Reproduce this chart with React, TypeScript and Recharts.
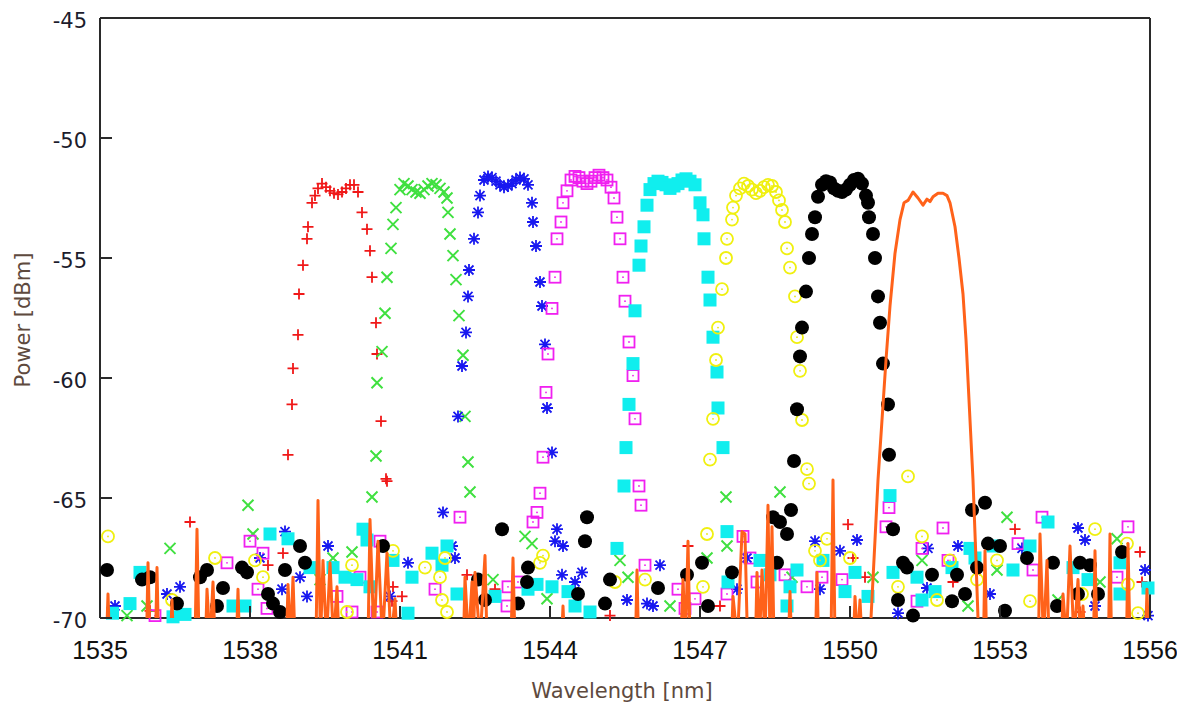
import React from 'react';
import { ComposedChart, Scatter, Line, XAxis, YAxis, Label } from 'recharts';

type Pt = [number, number];

// Axis ticks
const wavelengthTicks = [1535, 1538, 1541, 1544, 1547, 1550, 1553, 1556];
const powerTicks = [-70, -65, -60, -55, -50, -45];

// Channel 1 (red +): [wavelength nm, power dBm]
const ch1: Pt[] = [
  [1538.76, -63.2], [1538.84, -61.1], [1538.86, -59.6], [1538.96, -58.2], [1538.98, -56.5],
  [1539.06, -55.3], [1539.14, -54.2], [1539.16, -53.7], [1539.24, -52.7],
  [1539.3, -52.4], [1539.36, -52.1], [1539.44, -51.9], [1539.52, -52.05], [1539.6, -52.2],
  [1539.68, -52.3], [1539.76, -52.35], [1539.84, -52.25], [1539.92, -52.1], [1540.0, -51.95],
  [1540.08, -51.95], [1540.16, -52.25],
  [1540.24, -53.1], [1540.34, -53.8], [1540.4, -54.7], [1540.44, -55.8], [1540.52, -57.7],
  [1540.54, -59.0], [1540.62, -61.8], [1540.72, -64.2], [1540.74, -64.3],
  [1536.0, -69.7], [1536.8, -66.0], [1538.36, -67.8], [1538.66, -67.3], [1540.84, -69.3],
  [1540.86, -68.7], [1541.04, -69.1], [1542.34, -68.2], [1542.9, -68.8], [1545.2, -69.9],
  [1546.76, -67.0], [1547.4, -69.5], [1549.96, -66.1], [1550.06, -67.5], [1550.3, -68.3],
  [1552.06, -68.5], [1552.6, -68.0], [1553.3, -66.3], [1554.6, -69.75], [1555.8, -67.25],
  [1555.84, -68.5],
];

// Channel 2 (green x)
const ch2: Pt[] = [
  [1540.44, -64.96], [1540.52, -63.25], [1540.54, -60.2], [1540.64, -58.9], [1540.7, -57.3],
  [1540.74, -55.8], [1540.82, -54.6], [1540.86, -53.6], [1540.92, -52.9],
  [1541.0, -52.15], [1541.08, -51.9], [1541.16, -52.0], [1541.24, -52.15], [1541.32, -52.25],
  [1541.4, -52.3], [1541.48, -52.15], [1541.56, -52.0], [1541.64, -51.9], [1541.72, -51.95],
  [1541.8, -52.1], [1541.88, -52.25],
  [1541.94, -52.5], [1541.96, -53.1], [1542.0, -54.0], [1542.06, -54.9], [1542.12, -55.9],
  [1542.18, -57.4], [1542.26, -59.05], [1542.3, -61.6], [1542.36, -63.5], [1542.4, -64.75],
  [1535.54, -69.9], [1535.94, -69.5], [1536.4, -67.1], [1537.96, -65.3], [1538.06, -66.5],
  [1539.4, -68.4], [1539.66, -67.5], [1540.04, -67.25], [1542.86, -68.4], [1543.5, -66.6],
  [1543.64, -66.9], [1543.94, -69.2], [1545.4, -67.6], [1545.56, -68.3], [1546.4, -69.5],
  [1547.14, -67.5], [1547.52, -64.96], [1547.54, -67.0], [1548.6, -64.75], [1548.84, -68.3],
  [1550.46, -68.3], [1551.44, -67.6], [1552.36, -69.5], [1552.94, -68.0], [1553.14, -65.8],
  [1554.16, -69.25], [1555.0, -68.5], [1555.34, -66.7],
];

// Channel 3 (blue *)
const ch3: Pt[] = [
  [1542.16, -61.6], [1542.24, -59.5], [1542.32, -58.1], [1542.36, -56.6], [1542.38, -55.5],
  [1542.48, -54.2], [1542.56, -53.1], [1542.6, -52.4],
  [1542.68, -51.75], [1542.76, -51.6], [1542.84, -51.65], [1542.92, -51.8], [1543.0, -51.95],
  [1543.08, -52.05], [1543.16, -52.0], [1543.24, -51.9], [1543.32, -51.75], [1543.4, -51.65],
  [1543.48, -51.7], [1543.56, -51.95],
  [1543.64, -52.7], [1543.66, -53.5], [1543.72, -54.5], [1543.8, -56.0], [1543.84, -57.0],
  [1543.9, -58.6], [1543.94, -61.25], [1544.04, -63.1],
  [1535.3, -69.5], [1536.34, -69.0], [1536.6, -68.7], [1538.2, -67.5], [1538.64, -68.8],
  [1538.7, -66.4], [1539.0, -68.3], [1539.14, -69.1], [1539.56, -67.0], [1540.8, -69.1],
  [1541.16, -67.7], [1541.86, -65.6], [1542.04, -67.0], [1542.1, -67.5], [1544.1, -66.8],
  [1544.14, -66.3], [1544.26, -67.0], [1544.24, -68.2], [1544.5, -68.5], [1544.64, -68.1],
  [1545.54, -69.25], [1545.94, -69.4], [1546.06, -69.5], [1546.2, -67.8], [1547.74, -68.8],
  [1547.94, -67.5], [1549.3, -66.8], [1549.4, -68.8], [1549.8, -67.2], [1550.14, -66.75],
  [1550.96, -69.8], [1551.54, -68.75], [1551.56, -67.1], [1552.16, -67.0], [1552.8, -69.0],
  [1553.44, -67.1], [1554.56, -66.25], [1554.7, -66.75], [1554.9, -69.5], [1555.9, -68.0],
  [1555.96, -69.9],
];

// Channel 4 (magenta open square)
const ch4: Pt[] = [
  [1543.66, -66.0], [1543.74, -65.6], [1543.8, -64.8], [1543.86, -63.3], [1543.92, -60.6],
  [1543.96, -59.0], [1544.04, -57.1], [1544.1, -55.8], [1544.14, -54.2], [1544.22, -53.5],
  [1544.26, -52.7], [1544.34, -52.2],
  [1544.42, -51.75], [1544.5, -51.6], [1544.58, -51.65], [1544.66, -51.8], [1544.74, -51.9],
  [1544.82, -51.8], [1544.9, -51.65], [1544.98, -51.55], [1545.06, -51.65], [1545.14, -51.75],
  [1545.22, -52.05],
  [1545.28, -52.5], [1545.34, -53.3], [1545.4, -54.2], [1545.46, -55.8], [1545.5, -56.8],
  [1545.58, -58.5], [1545.66, -59.9], [1545.7, -61.7], [1545.78, -64.5], [1545.82, -65.3],
  [1536.1, -69.9], [1537.54, -67.7], [1538.0, -66.8], [1538.26, -67.3], [1538.16, -68.8],
  [1538.34, -69.6], [1539.74, -69.1], [1540.04, -69.75], [1540.2, -68.3], [1540.54, -69.75],
  [1540.6, -66.8], [1541.7, -68.8], [1542.2, -65.8], [1543.14, -69.5], [1543.16, -68.7],
  [1543.36, -68.5], [1545.9, -67.8], [1546.56, -68.8], [1546.7, -69.6], [1546.9, -69.2],
  [1547.54, -69.0], [1547.86, -66.6], [1548.0, -67.5], [1548.14, -68.5], [1548.7, -68.2],
  [1549.14, -68.7], [1549.44, -68.3], [1549.84, -68.4], [1550.78, -65.4], [1550.72, -66.2],
  [1551.34, -69.3], [1551.44, -67.1], [1551.86, -66.25], [1551.96, -67.6], [1553.36, -66.9],
  [1553.66, -68.0], [1553.84, -65.8], [1555.34, -68.3], [1555.56, -66.2],
];

// Channel 5 (cyan filled square)
const ch5: Pt[] = [
  [1545.48, -64.5], [1545.52, -62.9], [1545.58, -61.1], [1545.66, -59.4], [1545.7, -57.2],
  [1545.78, -55.3], [1545.82, -54.5], [1545.88, -53.7], [1545.94, -52.8],
  [1546.0, -52.15], [1546.08, -51.9], [1546.16, -51.8], [1546.24, -51.85], [1546.32, -51.95],
  [1546.4, -52.1], [1546.48, -52.0], [1546.56, -51.9], [1546.64, -51.75], [1546.72, -51.7],
  [1546.8, -51.8], [1546.9, -51.95],
  [1547.0, -52.7], [1547.06, -53.2], [1547.08, -54.2], [1547.16, -55.8], [1547.2, -56.75],
  [1547.26, -58.3], [1547.34, -59.75], [1547.36, -61.25], [1547.46, -62.9],
  [1535.25, -69.8], [1535.6, -69.4], [1535.8, -68.1], [1536.46, -69.95], [1536.7, -69.85],
  [1537.66, -69.5], [1537.9, -69.5], [1538.4, -66.5], [1538.76, -66.7], [1539.2, -67.9],
  [1539.66, -67.9], [1539.9, -68.3], [1540.14, -68.4], [1540.26, -66.3], [1540.34, -66.75],
  [1540.4, -68.7], [1540.86, -67.6], [1541.16, -69.8], [1541.24, -68.3], [1541.64, -67.3],
  [1541.84, -67.8], [1541.94, -67.0], [1542.14, -69.0], [1542.9, -69.1], [1543.56, -68.8],
  [1543.74, -68.6], [1544.04, -68.7], [1544.36, -68.9], [1544.5, -69.5], [1544.8, -69.75],
  [1545.34, -67.1], [1547.54, -66.4], [1547.56, -68.5], [1548.2, -67.6], [1548.4, -68.2],
  [1548.74, -69.5], [1548.94, -68.0], [1548.8, -68.7], [1549.46, -67.6], [1549.9, -68.9],
  [1550.1, -68.1], [1550.36, -69.1], [1550.8, -64.9], [1550.86, -68.1], [1551.34, -68.3],
  [1551.44, -69.25], [1551.7, -68.9], [1552.04, -67.9], [1552.4, -67.1], [1552.5, -67.5],
  [1552.86, -67.0], [1553.26, -68.0], [1553.6, -67.0], [1553.96, -66.0], [1554.46, -67.9],
  [1554.76, -68.4], [1555.4, -67.7], [1555.4, -69.0], [1555.96, -68.75],
];

// Channel 6 (yellow open circle)
const ch6: Pt[] = [
  [1547.2, -63.4], [1547.26, -61.7], [1547.32, -59.25], [1547.36, -57.9], [1547.44, -56.3],
  [1547.52, -55.0], [1547.54, -54.2], [1547.64, -53.4], [1547.66, -52.9],
  [1547.72, -52.4], [1547.8, -52.1], [1547.88, -51.9], [1547.96, -52.0], [1548.04, -52.15],
  [1548.12, -52.3], [1548.2, -52.2], [1548.28, -52.05], [1548.36, -51.95], [1548.44, -52.0],
  [1548.52, -52.25],
  [1548.58, -52.6], [1548.64, -53.0], [1548.7, -53.5], [1548.74, -54.6], [1548.8, -55.4],
  [1548.9, -56.6], [1548.94, -58.3], [1549.0, -59.7], [1549.04, -61.75], [1549.14, -63.8],
  [1549.18, -64.4],
  [1535.16, -66.6], [1536.44, -69.25], [1537.3, -67.5], [1538.1, -67.6], [1538.26, -68.3],
  [1539.94, -69.75], [1540.04, -67.8], [1540.86, -67.2], [1541.5, -67.9], [1541.8, -68.3],
  [1541.84, -69.25], [1541.9, -67.5], [1541.94, -69.75], [1543.8, -67.7], [1543.86, -67.4],
  [1545.3, -68.5], [1545.9, -68.4], [1547.06, -68.7], [1547.14, -66.5], [1549.3, -67.2],
  [1549.4, -67.6], [1549.54, -66.7], [1550.0, -67.5], [1550.96, -68.7], [1551.16, -64.1],
  [1551.44, -66.6], [1551.74, -69.25], [1552.0, -67.6], [1552.54, -68.4], [1552.94, -67.6],
  [1553.6, -69.3], [1554.64, -69.0], [1554.9, -66.3], [1555.54, -66.9], [1555.56, -68.6],
  [1555.76, -69.8],
];

// Channel 7 (black filled circle)
const ch7: Pt[] = [
  [1548.82, -65.5], [1548.88, -63.46], [1548.94, -61.3], [1549.0, -59.1], [1549.04, -57.9],
  [1549.12, -56.4], [1549.18, -55.0], [1549.24, -54.0], [1549.3, -53.3], [1549.36, -52.45],
  [1549.44, -51.95], [1549.52, -51.8], [1549.6, -51.85], [1549.68, -52.1], [1549.76, -52.2],
  [1549.84, -52.25], [1549.92, -52.15], [1550.0, -51.95], [1550.08, -51.75], [1550.16, -51.7],
  [1550.24, -51.9], [1550.32, -52.4],
  [1550.36, -52.7], [1550.38, -53.3], [1550.46, -54.0], [1550.5, -55.0], [1550.56, -56.6],
  [1550.6, -57.7], [1550.66, -59.4], [1550.76, -61.1], [1550.78, -63.2],
  [1535.14, -68.0], [1535.84, -68.4], [1536.0, -68.3], [1536.54, -69.4], [1537.0, -68.3],
  [1537.14, -68.0], [1537.34, -69.5], [1537.46, -68.75], [1537.84, -67.9], [1537.94, -68.1],
  [1538.36, -69.0], [1538.46, -69.4], [1538.6, -69.75], [1538.7, -68.0], [1539.0, -67.0],
  [1539.1, -67.7], [1540.66, -67.0], [1542.56, -68.4], [1542.7, -69.25], [1543.04, -66.3],
  [1543.36, -69.4], [1543.54, -68.5], [1543.56, -67.9], [1544.56, -69.0], [1544.7, -66.8],
  [1544.74, -65.8], [1545.1, -69.4], [1545.2, -68.4], [1546.16, -68.75], [1546.74, -68.2],
  [1547.04, -67.7], [1547.16, -69.5], [1547.64, -68.1], [1548.46, -65.8], [1548.54, -67.7],
  [1548.6, -66.0], [1548.74, -66.5], [1550.86, -66.3], [1550.96, -69.25], [1551.06, -67.7],
  [1551.14, -67.9], [1551.26, -69.9], [1551.64, -68.2], [1552.04, -69.3], [1552.14, -68.2],
  [1552.3, -69.0], [1552.44, -65.5], [1552.54, -67.9], [1552.7, -65.2], [1552.76, -66.9],
  [1553.0, -67.0], [1553.1, -69.7], [1553.54, -67.5], [1554.06, -67.7], [1554.14, -69.5],
  [1554.56, -69.0], [1554.6, -67.7], [1554.8, -67.8], [1554.96, -69.0], [1555.44, -67.25],
];

// Channel 8 (orange trace), ordered by wavelength; floor values sit below the axis
const ch8: Pt[] = [
  [1535.0, -71], [1535.13, -71], [1535.16, -69.0], [1535.19, -71],
  [1535.93, -71], [1535.96, -67.7], [1536.0, -71], [1536.11, -71], [1536.14, -67.9], [1536.17, -71],
  [1536.41, -71], [1536.44, -69.25], [1536.47, -71],
  [1536.9, -71], [1536.94, -66.3], [1536.98, -71],
  [1537.11, -71], [1537.14, -68.8], [1537.2, -71], [1537.26, -68.5], [1537.3, -71],
  [1537.73, -71], [1537.76, -68.8], [1537.79, -71],
  [1538.73, -71], [1538.76, -68.6], [1538.81, -71], [1538.86, -68.3], [1538.9, -71],
  [1539.32, -71], [1539.36, -65.1], [1539.41, -71], [1539.46, -67.6], [1539.53, -71],
  [1539.6, -67.7], [1539.67, -71], [1539.74, -68.7], [1539.78, -71],
  [1540.36, -71], [1540.4, -65.9], [1540.48, -71], [1540.56, -66.8], [1540.65, -71],
  [1540.74, -67.3], [1540.82, -71], [1540.9, -69.2], [1540.94, -71],
  [1542.27, -71], [1542.3, -68.3], [1542.37, -71], [1542.44, -68.5], [1542.47, -71],
  [1542.5, -68.1], [1542.6, -71], [1542.7, -67.4], [1542.74, -71],
  [1543.22, -71], [1543.26, -67.5], [1543.3, -71],
  [1544.23, -71], [1544.26, -69.5], [1544.29, -71],
  [1545.71, -71], [1545.74, -68.0], [1545.77, -71],
  [1546.62, -71], [1546.66, -68.4], [1546.71, -71], [1546.76, -66.8], [1546.8, -71],
  [1547.63, -71], [1547.66, -69.1], [1547.75, -71], [1547.84, -66.4], [1547.9, -66.5], [1547.95, -71],
  [1548.11, -71], [1548.14, -68.1], [1548.19, -71], [1548.24, -68.0], [1548.3, -71],
  [1548.36, -65.3], [1548.4, -71], [1548.44, -66.2], [1548.48, -71],
  [1548.77, -71], [1548.8, -68.9], [1548.83, -71],
  [1549.31, -71], [1549.34, -68.1], [1549.37, -71],
  [1549.62, -71], [1549.66, -64.25], [1549.7, -71],
  [1550.07, -71], [1550.1, -69.1], [1550.15, -71], [1550.2, -69.25], [1550.24, -71],
  [1550.4, -71], [1550.42, -70], [1550.5, -66.75], [1550.56, -64.25], [1550.64, -61.75],
  [1550.72, -59.25], [1550.8, -57.0], [1550.9, -54.8], [1551.0, -53.4], [1551.08, -52.7],
  [1551.16, -52.6], [1551.26, -52.25], [1551.36, -52.5], [1551.46, -52.8], [1551.54, -52.55],
  [1551.6, -52.65], [1551.66, -52.45], [1551.76, -52.3], [1551.86, -52.3], [1551.94, -52.4],
  [1552.0, -52.7], [1552.1, -53.7], [1552.18, -55.0], [1552.26, -56.5], [1552.32, -58.4],
  [1552.4, -61.75], [1552.46, -64.25], [1552.52, -67.6], [1552.56, -70], [1552.58, -71],
  [1552.67, -71], [1552.7, -67.2], [1552.73, -71],
  [1553.77, -71], [1553.8, -66.5], [1553.87, -71], [1553.94, -67.6], [1553.98, -71],
  [1554.23, -71], [1554.26, -69.0], [1554.33, -71], [1554.4, -67.0], [1554.48, -71],
  [1554.56, -68.4], [1554.61, -71], [1554.66, -69.5], [1554.7, -71],
  [1554.87, -71], [1554.9, -67.2], [1554.94, -71],
  [1555.17, -71], [1555.2, -66.5], [1555.23, -71],
  [1555.53, -71], [1555.56, -66.9], [1555.6, -71],
  [1555.91, -71], [1555.94, -68.8], [1555.97, -71], [1556.0, -71],
];

const toRows = (pts: Pt[]) => pts.map(([wl, p]) => ({ wl, p }));

const FRAME = '#2a2a2a';
const TICK_LEN = 12;
const TITLE_COLOR = '#5e4a3e';

// Marker shapes
const PlusMark = (p: any) => (
  <path d={`M${p.cx - 5.5},${p.cy}h11M${p.cx},${p.cy - 5.5}v11`} stroke="#f01818" strokeWidth={1.8} fill="none" />
);
const CrossMark = (p: any) => (
  <path d={`M${p.cx - 5.5},${p.cy - 5.5}l11,11M${p.cx - 5.5},${p.cy + 5.5}l11,-11`} stroke="#40e040" strokeWidth={2} fill="none" />
);
const StarMark = (p: any) => (
  <path
    d={`M${p.cx - 6},${p.cy}h12M${p.cx},${p.cy - 6}v12M${p.cx - 4.5},${p.cy - 4.5}l9,9M${p.cx - 4.5},${p.cy + 4.5}l9,-9`}
    stroke="#1818f0" strokeWidth={1.8} fill="none"
  />
);
const OpenSquareMark = (p: any) => (
  <g>
    <rect x={p.cx - 5.5} y={p.cy - 5.5} width={11} height={11} stroke="#f020f0" strokeWidth={1.8} fill="none" />
    <circle cx={p.cx} cy={p.cy} r={0.9} fill="#f020f0" />
  </g>
);
const FilledSquareMark = (p: any) => (
  <rect x={p.cx - 6.5} y={p.cy - 6.5} width={13} height={13} fill="#10eeee" />
);
const OpenCircleMark = (p: any) => (
  <g>
    <circle cx={p.cx} cy={p.cy} r={6} stroke="#f0f010" strokeWidth={1.8} fill="none" />
    <circle cx={p.cx} cy={p.cy} r={0.9} fill="#e8e810" />
  </g>
);
const DotMark = (p: any) => <circle cx={p.cx} cy={p.cy} r={7} fill="#000" />;

// Inward tick marks, with labels outside the frame
const BottomTick = (props: any) => {
  const { x, y, payload } = props;
  const axisY = y - 41;
  return (
    <g>
      <line x1={x} y1={axisY} x2={x} y2={axisY - TICK_LEN} stroke={FRAME} strokeWidth={2} />
      <text x={x} y={y} textAnchor="middle" fontFamily="'Liberation Sans', Arial, sans-serif" fontSize={25} fill="#111">
        {payload.value}
      </text>
    </g>
  );
};
const LeftTick = (props: any) => {
  const { x, y, payload } = props;
  const axisX = x + 13;
  return (
    <g>
      <line x1={axisX} y1={y} x2={axisX + TICK_LEN} y2={y} stroke={FRAME} strokeWidth={2} />
      <text x={x} y={y + 10} textAnchor="end" fontFamily="'DejaVu Sans', sans-serif" fontSize={21} fill="#1c1c2c">
        {payload.value}
      </text>
    </g>
  );
};
const TopTick = (props: any) => {
  const { x, y } = props;
  return <line x1={x} y1={y} x2={x} y2={y + TICK_LEN} stroke={FRAME} strokeWidth={2} />;
};
const RightTick = (props: any) => {
  const { x, y } = props;
  return <line x1={x} y1={y} x2={x - TICK_LEN} y2={y} stroke={FRAME} strokeWidth={2} />;
};

const XTitle = (props: any) => {
  const { x, y, width, height } = props.viewBox;
  return (
    <text x={x + width / 2 - 3} y={y + height - 11} textAnchor="middle" fontFamily="'DejaVu Sans', sans-serif" fontSize={21} fill={TITLE_COLOR}>
      Wavelength [nm]
    </text>
  );
};
const YTitle = (props: any) => {
  const { y, height } = props.viewBox;
  const cx = 23;
  const cy = y + height / 2 + 2;
  return (
    <text
      x={cx} y={cy} transform={`rotate(-90 ${cx} ${cy})`} textAnchor="middle" dominantBaseline="central"
      fontFamily="'DejaVu Sans', sans-serif" fontSize={21} fill={TITLE_COLOR}
    >
      Power [dBm]
    </text>
  );
};

const series = [
  { name: 'ch1', data: ch1, shape: PlusMark },
  { name: 'ch2', data: ch2, shape: CrossMark },
  { name: 'ch3', data: ch3, shape: StarMark },
  { name: 'ch4', data: ch4, shape: OpenSquareMark },
  { name: 'ch5', data: ch5, shape: FilledSquareMark },
  { name: 'ch6', data: ch6, shape: OpenCircleMark },
  { name: 'ch7', data: ch7, shape: DotMark },
];

const axisLine = { stroke: FRAME, strokeWidth: 2 };

export default function App() {
  return (
    <div style={{ position: 'absolute', left: 0, top: 0, background: '#fff' }}>
      <ComposedChart width={1177} height={709} margin={{ top: 16, right: 25, bottom: 0, left: 0 }}>
        <XAxis
          dataKey="wl" type="number" domain={[1535, 1556]} ticks={wavelengthTicks} interval={0}
          height={91} tickSize={0} tickMargin={41} tickLine={false} axisLine={axisLine} tick={BottomTick}
        >
          <Label content={XTitle} />
        </XAxis>
        <XAxis
          xAxisId="top" orientation="top" dataKey="wl" type="number" domain={[1535, 1556]} ticks={wavelengthTicks}
          interval={0} height={2} tickSize={0} tickMargin={0} tickLine={false} axisLine={axisLine} tick={TopTick}
        />
        <YAxis
          dataKey="p" type="number" domain={[-70, -45]} ticks={powerTicks} interval={0}
          width={100} tickSize={0} tickMargin={13} tickLine={false} axisLine={axisLine} tick={LeftTick}
        >
          <Label content={YTitle} />
        </YAxis>
        <YAxis
          yAxisId="right" orientation="right" dataKey="p" type="number" domain={[-70, -45]} ticks={powerTicks}
          interval={0} width={2} tickSize={0} tickMargin={0} tickLine={false} axisLine={axisLine} tick={RightTick}
        />
        <YAxis yAxisId="clip" hide dataKey="p" type="number" domain={[-70, -45]} allowDataOverflow />
        {series.map((s) => (
          <Scatter
            key={s.name} name={s.name} data={toRows(s.data)} dataKey="p"
            shape={(p: any) => <s.shape cx={p.cx} cy={p.cy} />} isAnimationActive={false}
          />
        ))}
        <Scatter
          name="frame-top" data={[]} dataKey="p" xAxisId="top" yAxisId="right" isAnimationActive={false}
        />
        <Line
          data={toRows(ch8)} dataKey="p" yAxisId="clip" type="linear" stroke="#ff621a" strokeWidth={3}
          dot={false} activeDot={false} isAnimationActive={false} strokeLinejoin="round" zIndex={700}
        />
      </ComposedChart>
    </div>
  );
}
